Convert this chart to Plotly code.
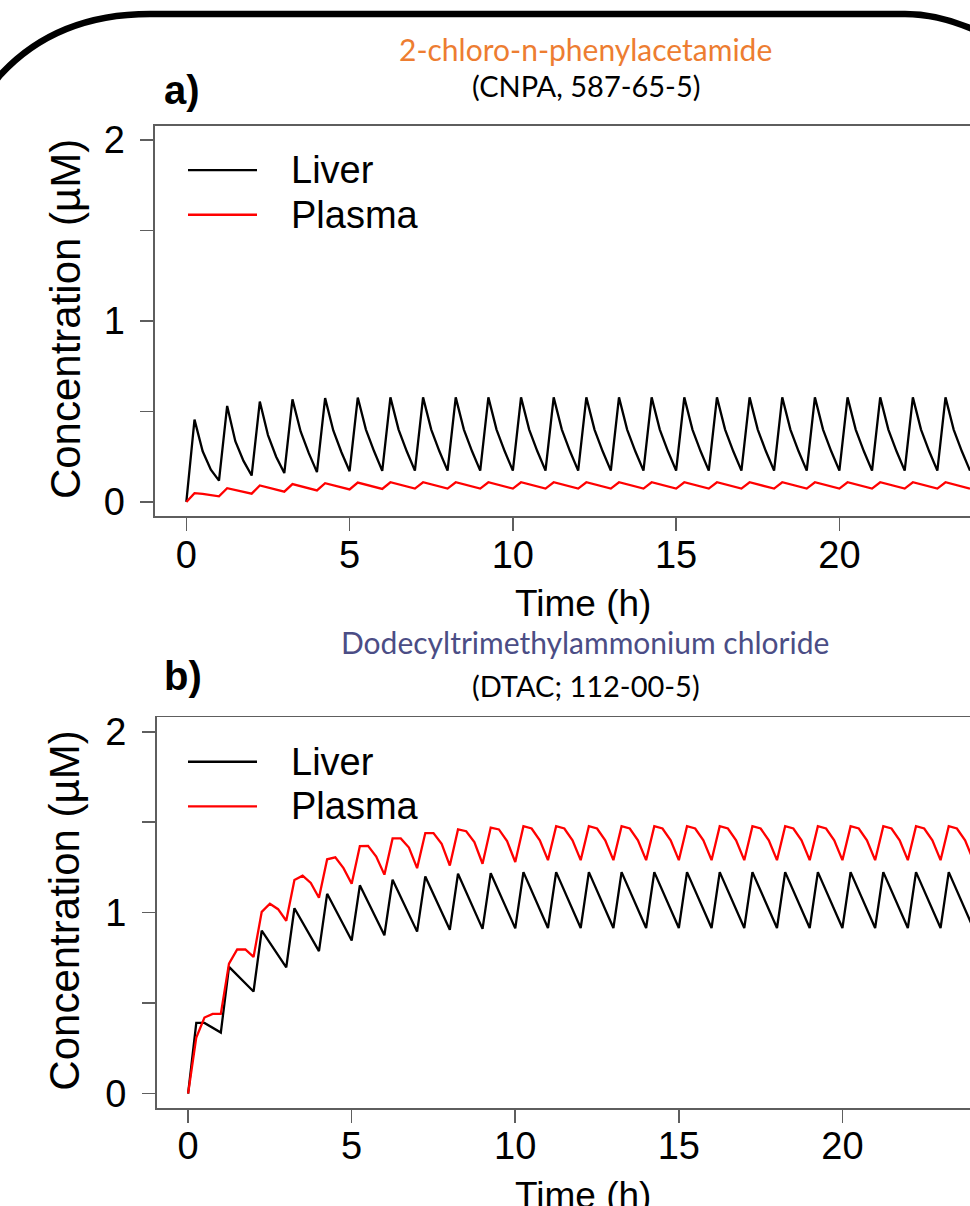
import plotly.graph_objects as go

W, H = 970, 1206

# ---------------- data ----------------
time_h = [0, 0.25, 0.5, 0.75, 1, 1.25, 1.5, 1.75, 2, 2.25, 2.5, 2.75, 3, 3.25, 3.5, 3.75,
          4, 4.25, 4.5, 4.75, 5, 5.25, 5.5, 5.75, 6, 6.25, 6.5, 6.75, 7, 7.25, 7.5, 7.75,
          8, 8.25, 8.5, 8.75, 9, 9.25, 9.5, 9.75, 10, 10.25, 10.5, 10.75, 11, 11.25, 11.5, 11.75,
          12, 12.25, 12.5, 12.75, 13, 13.25, 13.5, 13.75, 14, 14.25, 14.5, 14.75, 15, 15.25, 15.5, 15.75,
          16, 16.25, 16.5, 16.75, 17, 17.25, 17.5, 17.75, 18, 18.25, 18.5, 18.75, 19, 19.25, 19.5, 19.75,
          20, 20.25, 20.5, 20.75, 21, 21.25, 21.5, 21.75, 22, 22.25, 22.5, 22.75, 23, 23.25, 23.5, 23.75, 24]

# panel a) CNPA
liver_a = [0,
           0.455, 0.28, 0.178, 0.118,
           0.531, 0.336, 0.227, 0.146,
           0.555, 0.37, 0.25, 0.16,
           0.567, 0.39, 0.27, 0.165,
           0.574, 0.395, 0.275, 0.17,
           0.577, 0.40, 0.28, 0.172,
           0.578, 0.40, 0.28, 0.173,
           0.578, 0.40, 0.28, 0.173,
           0.578, 0.40, 0.28, 0.173,
           0.578, 0.40, 0.28, 0.173,
           0.578, 0.40, 0.28, 0.173,
           0.578, 0.40, 0.28, 0.173,
           0.578, 0.40, 0.28, 0.173,
           0.578, 0.40, 0.28, 0.173,
           0.578, 0.40, 0.28, 0.173,
           0.578, 0.40, 0.28, 0.173,
           0.578, 0.40, 0.28, 0.173,
           0.578, 0.40, 0.28, 0.173,
           0.578, 0.40, 0.28, 0.173,
           0.578, 0.40, 0.28, 0.173,
           0.578, 0.40, 0.28, 0.173,
           0.578, 0.40, 0.28, 0.173,
           0.578, 0.40, 0.28, 0.173,
           0.578, 0.40, 0.28, 0.173]

plasma_a = [0,
            0.049, 0.045, 0.038, 0.031,
            0.076, 0.066, 0.056, 0.046,
            0.091, 0.079, 0.068, 0.057,
            0.099, 0.087, 0.075, 0.064,
            0.104, 0.092, 0.080, 0.069,
            0.107, 0.095, 0.083, 0.072,
            0.109, 0.097, 0.085, 0.074,
            0.109, 0.097, 0.085, 0.074,
            0.109, 0.097, 0.085, 0.074,
            0.109, 0.097, 0.085, 0.074,
            0.109, 0.097, 0.085, 0.074,
            0.109, 0.097, 0.085, 0.074,
            0.109, 0.097, 0.085, 0.074,
            0.109, 0.097, 0.085, 0.074,
            0.109, 0.097, 0.085, 0.074,
            0.109, 0.097, 0.085, 0.074,
            0.109, 0.097, 0.085, 0.074,
            0.109, 0.097, 0.085, 0.074,
            0.109, 0.097, 0.085, 0.074,
            0.109, 0.097, 0.085, 0.074,
            0.109, 0.097, 0.085, 0.074,
            0.109, 0.097, 0.085, 0.074,
            0.109, 0.097, 0.085, 0.074,
            0.109, 0.097, 0.085, 0.074]

# panel b) DTAC
liver_b = [0,
           0.39, 0.39, 0.365, 0.337,
           0.70, 0.655, 0.61, 0.564,
           0.90, 0.83, 0.765, 0.697,
           1.024, 0.945, 0.865, 0.787,
           1.104, 1.015, 0.93, 0.846,
           1.151, 1.06, 0.97, 0.875,
           1.182, 1.085, 0.99, 0.895,
           1.20, 1.10, 1.005, 0.905,
           1.215, 1.11, 1.01, 0.91,
           1.218, 1.115, 1.015, 0.913,
           1.224, 1.12, 1.02, 0.915,
           1.224, 1.12, 1.02, 0.915,
           1.224, 1.12, 1.02, 0.915,
           1.224, 1.12, 1.02, 0.915,
           1.224, 1.12, 1.02, 0.915,
           1.224, 1.12, 1.02, 0.915,
           1.224, 1.12, 1.02, 0.915,
           1.224, 1.12, 1.02, 0.915,
           1.224, 1.12, 1.02, 0.915,
           1.224, 1.12, 1.02, 0.915,
           1.224, 1.12, 1.02, 0.915,
           1.224, 1.12, 1.02, 0.915,
           1.224, 1.12, 1.02, 0.915,
           1.224, 1.12, 1.02, 0.915]

plasma_b = [0,
            0.31, 0.42, 0.44, 0.44,
            0.718, 0.796, 0.796, 0.755,
            1.004, 1.049, 1.019, 0.955,
            1.18, 1.204, 1.164, 1.082,
            1.295, 1.306, 1.246, 1.16,
            1.368, 1.369, 1.31, 1.21,
            1.41, 1.41, 1.36, 1.246,
            1.44, 1.44, 1.38, 1.26,
            1.46, 1.45, 1.39, 1.27,
            1.47, 1.46, 1.395, 1.28,
            1.478, 1.465, 1.40, 1.29,
            1.478, 1.465, 1.40, 1.29,
            1.478, 1.465, 1.40, 1.29,
            1.478, 1.465, 1.40, 1.29,
            1.478, 1.465, 1.40, 1.29,
            1.478, 1.465, 1.40, 1.29,
            1.478, 1.465, 1.40, 1.29,
            1.478, 1.465, 1.40, 1.29,
            1.478, 1.465, 1.40, 1.29,
            1.478, 1.465, 1.40, 1.29,
            1.478, 1.465, 1.40, 1.29,
            1.478, 1.465, 1.40, 1.29,
            1.478, 1.465, 1.40, 1.29,
            1.478, 1.465, 1.40, 1.29]

series_names = ["Liver", "Plasma"]
x_tick_vals = [0, 5, 10, 15, 20]
y_tick_vals = [0, 0.5, 1, 1.5, 2]
y_tick_text = ["0", "", "1", "", "2"]
panel_labels = ["a)", "b)"]
chem_names = ["2-chloro-n-phenylacetamide", "Dodecyltrimethylammonium chloride"]
chem_ids = ["(CNPA, 587-65-5)", "(DTAC; 112-00-5)"]
x_title = "Time (h)"
y_title = "Concentration (µM)"

# ---------------- styling ----------------
SERIES_COLORS = ["#000000", "#FF0000"]
NAME_COLORS = ["#ED7D31", "#4B4D85"]
AXIS_COLOR = "#5E5E5E"
FONT = "Liberation Sans, Arial, sans-serif"
TITLE_FONT = "Lato, Open Sans, sans-serif"
FS = 38


def px(x):
    return x / W


def py(y):
    return 1 - y / H


# panel geometry in pixels
panels = [
    dict(left=155, top=121, bottom=516, xr=[-0.96, 24.0],
         title_y=43, id_y=80, lab_y=85),
    dict(left=156.7, top=719, bottom=1114, xr=[-0.96, 23.9],
         title_y=643, id_y=687, lab_y=677),
]
series_sets = [[liver_a, plasma_a], [liver_b, plasma_b]]

fig = go.Figure()
annotations = []
shapes = []

for i, p in enumerate(panels):
    xa = "x" if i == 0 else "x2"
    ya = "y" if i == 0 else "y2"
    for j, ser in enumerate(series_sets[i]):
        fig.add_trace(go.Scatter(
            x=time_h, y=ser, mode="lines", name=series_names[j],
            line=dict(color=SERIES_COLORS[j], width=2.3),
            xaxis=xa, yaxis=ya, showlegend=False, hoverinfo="skip"))

    axis_common = dict(showline=True, linecolor=AXIS_COLOR, linewidth=1.6,
                       ticks="outside", ticklen=13, tickwidth=1.6, tickcolor=AXIS_COLOR,
                       tickfont=dict(family=FONT, size=FS, color="black"),
                       showgrid=False, zeroline=False, fixedrange=True)
    xkey = "xaxis" if i == 0 else "xaxis2"
    ykey = "yaxis" if i == 0 else "yaxis2"
    fig.update_layout(**{
        xkey: dict(domain=[px(p["left"]), 1], range=p["xr"], anchor=ya,
                   tickvals=x_tick_vals, mirror=True, ticklabelstandoff=-9, **axis_common),
        ykey: dict(domain=[py(p["bottom"]), py(p["top"])], range=[-0.08, 2.08], anchor=xa,
                   tickvals=y_tick_vals, ticktext=y_tick_text, mirror=False,
                   ticklabelstandoff=8, **axis_common),
    })

    # titles
    annotations.append(dict(x=px(585), y=py(p["title_y"]), xref="paper", yref="paper",
                            text=chem_names[i], showarrow=False, xanchor="center", yanchor="middle",
                            font=dict(family=TITLE_FONT, size=30, color=NAME_COLORS[i])))
    annotations.append(dict(x=px(586), y=py(p["id_y"]), xref="paper", yref="paper",
                            text=chem_ids[i], showarrow=False, xanchor="center", yanchor="middle",
                            font=dict(family=TITLE_FONT, size=29, color="black")))
    annotations.append(dict(x=px(162), y=py(p["lab_y"]), xref="paper", yref="paper",
                            text="<b>%s</b>" % panel_labels[i], showarrow=False,
                            xanchor="left", yanchor="middle",
                            font=dict(family=FONT, size=40, color="black")))
    # axis titles
    annotations.append(dict(x=px(583), y=py(p["bottom"] + 88), xref="paper", yref="paper",
                            text=x_title, showarrow=False, xanchor="center", yanchor="middle",
                            font=dict(family=FONT, size=37, color="black")))
    annotations.append(dict(x=px(65), y=py((p["top"] + p["bottom"]) / 2 - 2), xref="paper", yref="paper",
                            text=y_title, showarrow=False, textangle=-90,
                            xanchor="center", yanchor="middle",
                            font=dict(family=FONT, size=42, color="black")))
    # legend
    leg_y = [p["top"] + 45, p["top"] + 90]
    for j, name in enumerate(series_names):
        shapes.append(dict(type="line", xref="paper", yref="paper",
                           x0=px(188), x1=px(257), y0=py(leg_y[j]), y1=py(leg_y[j]),
                           line=dict(color=SERIES_COLORS[j], width=2.3)))
        annotations.append(dict(x=px(289), y=py(leg_y[j]), xref="paper", yref="paper",
                                text=name, showarrow=False, xanchor="left", yanchor="middle",
                                font=dict(family=FONT, size=FS, color="black")))


# rounded outer frame (decoration)
def P(x, y):
    return "%.5f,%.5f" % (px(x), py(y))


frame_path = ("M " + P(-14, 88) + " L " + P(0, 70) + " Q " + P(56, 8) + " " + P(150, 8) +
              " L " + P(905, 8) + " Q " + P(937, 8) + " " + P(972, 23) + " L " + P(1000, 40))
shapes.append(dict(type="path", xref="paper", yref="paper", path=frame_path,
                   line=dict(color="black", width=6.5), layer="above"))

fig.update_layout(
    width=W, height=H,
    margin=dict(l=0, r=0, t=0, b=0),
    paper_bgcolor="white", plot_bgcolor="white",
    annotations=annotations, shapes=shapes,
    showlegend=False,
)

fig.write_html("out.html",
               config={"displayModeBar": False, "staticPlot": True},
               post_script="document.body.style.margin='0px';document.body.style.overflow='hidden';")
